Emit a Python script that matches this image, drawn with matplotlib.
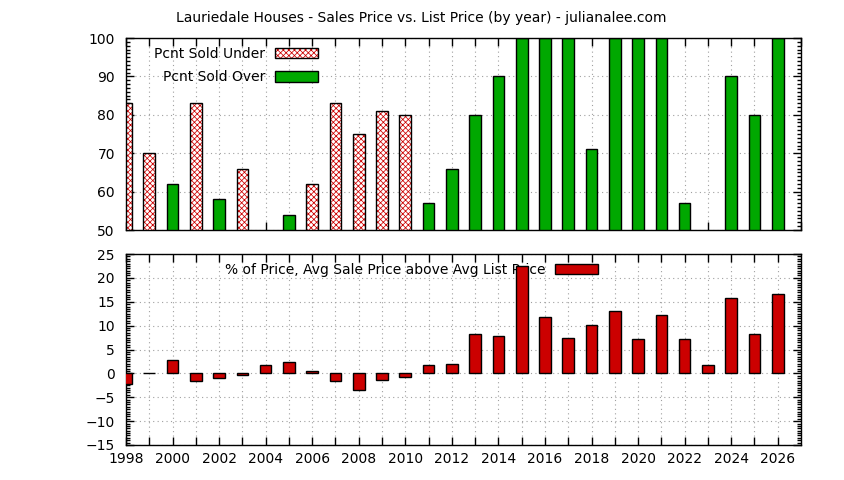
import numpy as np
import matplotlib
matplotlib.use('Agg')
import matplotlib.pyplot as plt
from matplotlib.patches import Patch
from matplotlib.ticker import MultipleLocator
from matplotlib.legend_handler import HandlerTuple

nan = np.nan
years = list(range(1998, 2027))
# percent of houses sold under / over list price (hidden values left as nan)
pcnt_under = [83, 70, nan, 83, nan, 66, nan, nan, 62, 83, 75, 81, 80, nan, nan,
              nan, nan, nan, nan, nan, nan, nan, nan, nan, nan, nan, nan, nan, nan]
pcnt_over = [nan, nan, 62, nan, 58, nan, nan, 54, nan, nan, nan, nan, nan, 57, 66,
             80, 90, 100, 100, 100, 71, 100, 100, 100, 57, nan, 90, 80, 100]
# % avg sale price above avg list price
pct_above = [-2.3, 0.0, 2.7, -1.5, -0.9, -0.3, 1.7, 2.3, 0.5, -1.7, -3.4, -1.3, -0.7,
             1.7, 1.9, 8.2, 7.8, 22.4, 11.8, 7.5, 10.1, 13.0, 7.1, 12.2, 7.3, 1.7,
             15.8, 8.2, 16.6]

green = '#00a800'
red = '#cc0000'
hatch = 'xxxxxx'
grid_kw = dict(color='#a0a0a0', linestyle=(0, (1, 3)), linewidth=0.8)

plt.rcParams['font.family'] = 'DejaVu Sans'
plt.rcParams['font.size'] = 10
plt.rcParams['hatch.linewidth'] = 0.55

fig = plt.figure(figsize=(8.44, 4.80), dpi=100)
ax1 = fig.add_axes([126 / 844, 1 - 230 / 480, 675 / 844, 192 / 480])
ax2 = fig.add_axes([126 / 844, 1 - 445 / 480, 675 / 844, 191 / 480])

fig.text(421 / 844, 1 - 18 / 480,
         'Lauriedale Houses - Sales Price vs. List Price (by year) - julianalee.com',
         ha='center', va='center', fontsize=10)


def style_axis(ax):
    ax.set_xlim(1998, 2027)
    ax.xaxis.set_major_locator(MultipleLocator(1))
    ax.tick_params(which='both', direction='in', top=True, right=True, width=1)
    ax.tick_params(which='major', length=6)
    ax.tick_params(which='minor', length=3)
    ax.tick_params(axis='y', pad=8)
    ax.tick_params(axis='x', pad=5)
    ax.grid(True, which='major', **grid_kw)
    ax.set_axisbelow(True)
    for s in ax.spines.values():
        s.set_linewidth(1)


# top panel
style_axis(ax1)
ax1.set_ylim(50, 100)
ax1.yaxis.set_major_locator(MultipleLocator(10))
ax1.yaxis.set_minor_locator(MultipleLocator(1))
ax1.set_xticklabels([])

ax1.bar(years, pcnt_under, width=0.5, color='white', edgecolor=red,
        hatch=hatch, linewidth=0, zorder=2)
ax1.bar(years, pcnt_under, width=0.5, fill=False, edgecolor='black',
        linewidth=1, zorder=3)
ax1.bar(years, pcnt_over, width=0.5, color=green, edgecolor='black',
        linewidth=1, zorder=2)

hp = Patch(facecolor='white', edgecolor=red, hatch=hatch, linewidth=0)
hpe = Patch(fill=False, edgecolor='black', linewidth=1)
hg = Patch(facecolor=green, edgecolor='black', linewidth=1)
ax1.legend([(hp, hpe), hg], ['Pcnt Sold Under', 'Pcnt Sold Over'],
           handler_map={tuple: HandlerTuple(ndivide=1, pad=0)},
           loc='upper right', bbox_to_anchor=(0.2844, 0.955), markerfirst=False,
           frameon=False, borderpad=0, borderaxespad=0, handlelength=3.1,
           handleheight=0.75, handletextpad=0.7, labelspacing=0.7, fontsize=10)

# bottom panel
style_axis(ax2)
ax2.set_ylim(-15, 25)
ax2.yaxis.set_major_locator(MultipleLocator(5))
ax2.yaxis.set_minor_locator(MultipleLocator(0.5))
ax2.set_xticks(years)
ax2.set_xticklabels([str(y) if y % 2 == 0 else '' for y in years])

ax2.bar(years, pct_above, width=0.5, color=red, edgecolor='black',
        linewidth=1, zorder=3)
hr = Patch(facecolor=red, edgecolor='black', linewidth=1)
leg2 = ax2.legend([hr], ['% of Price, Avg Sale Price above Avg List Price'],
                  loc='upper right', bbox_to_anchor=(0.699, 0.955), markerfirst=False,
                  frameon=False, borderpad=0, borderaxespad=0, handlelength=3.1,
                  handleheight=0.75, handletextpad=0.7, fontsize=10)
leg2.set_zorder(2)

fig.savefig('out.png', dpi=100)
